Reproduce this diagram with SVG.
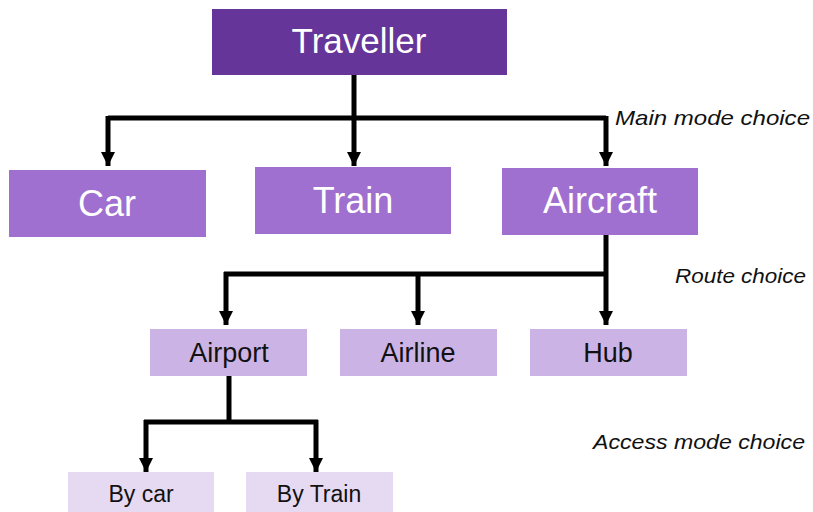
<svg xmlns="http://www.w3.org/2000/svg" width="813" height="512" viewBox="0 0 813 512">
  <defs>
    <marker id="arrow" viewBox="0 0 14 14" refX="14" refY="7" markerWidth="14" markerHeight="14" markerUnits="userSpaceOnUse" orient="auto">
      <path d="M0,0 L14,7 L0,14 Z" fill="#000"/>
    </marker>
  </defs>
  <style>
    .lvl1 { fill: #65359a; }
    .lvl2 { fill: #a070d0; }
    .lvl3 { fill: #ccb3e5; }
    .lvl4 { fill: #e6daf3; }
    text { font-family: "Liberation Sans", Arial, sans-serif; text-anchor: middle; }
    .t1 { fill: #fff; font-size: 35px; }
    .t2 { fill: #fff; font-size: 36px; }
    .t3 { fill: #111; font-size: 27px; }
    .t4 { fill: #111; font-size: 23px; }
    .note { fill: #111; font-size: 21px; font-style: italic; text-anchor: start; }
    .wire { fill: none; stroke: #000; stroke-width: 5; }
    .wire.arr { marker-end: url(#arrow); }
  </style>

  <!-- connectors -->
  <g id="connectors">
    <!-- Traveller to main modes -->
    <path class="wire arr" d="M354,75 V166"/>
    <path class="wire" d="M108,118 H606"/>
    <path class="wire arr" d="M108,116 V166"/>
    <path class="wire arr" d="M606,116 V166"/>
    <!-- Aircraft to route options -->
    <path class="wire arr" d="M606,235 V325"/>
    <path class="wire" d="M224,274 H606"/>
    <path class="wire arr" d="M226,272 V325"/>
    <path class="wire arr" d="M418,272 V325"/>
    <!-- Airport to access modes -->
    <path class="wire" d="M229,376 V422"/>
    <path class="wire" d="M144,422 H318"/>
    <path class="wire arr" d="M146,420 V472"/>
    <path class="wire arr" d="M316,420 V472"/>
  </g>

  <g id="traveller">
    <rect class="lvl1" x="212" y="9" width="295" height="66"/>
    <text class="t1" x="359" y="53">Traveller</text>
  </g>

  <g id="car">
    <rect class="lvl2" x="9" y="170" width="197" height="67"/>
    <text class="t2" x="107" y="216">Car</text>
  </g>
  <g id="train">
    <rect class="lvl2" x="255" y="167" width="196" height="67"/>
    <text class="t2" x="353" y="213">Train</text>
  </g>
  <g id="aircraft">
    <rect class="lvl2" x="502" y="168" width="196" height="67"/>
    <text class="t2" x="600" y="213">Aircraft</text>
  </g>

  <g id="airport">
    <rect class="lvl3" x="150" y="329" width="157" height="47"/>
    <text class="t3" x="229" y="362">Airport</text>
  </g>
  <g id="airline">
    <rect class="lvl3" x="340" y="329" width="157" height="47"/>
    <text class="t3" x="418" y="362">Airline</text>
  </g>
  <g id="hub">
    <rect class="lvl3" x="530" y="329" width="157" height="47"/>
    <text class="t3" x="608" y="362">Hub</text>
  </g>

  <g id="by-car">
    <rect class="lvl4" x="68" y="472" width="146" height="45"/>
    <text class="t4" x="141" y="502">By car</text>
  </g>
  <g id="by-train">
    <rect class="lvl4" x="246" y="472" width="147" height="45"/>
    <text class="t4" x="319" y="502">By Train</text>
  </g>

  <!-- level captions -->
  <text class="note" x="615" y="125" textLength="195" lengthAdjust="spacingAndGlyphs">Main mode choice</text>
  <text class="note" x="675" y="283" textLength="131" lengthAdjust="spacingAndGlyphs">Route choice</text>
  <text class="note" x="593" y="449" textLength="212" lengthAdjust="spacingAndGlyphs">Access mode choice</text>
</svg>
